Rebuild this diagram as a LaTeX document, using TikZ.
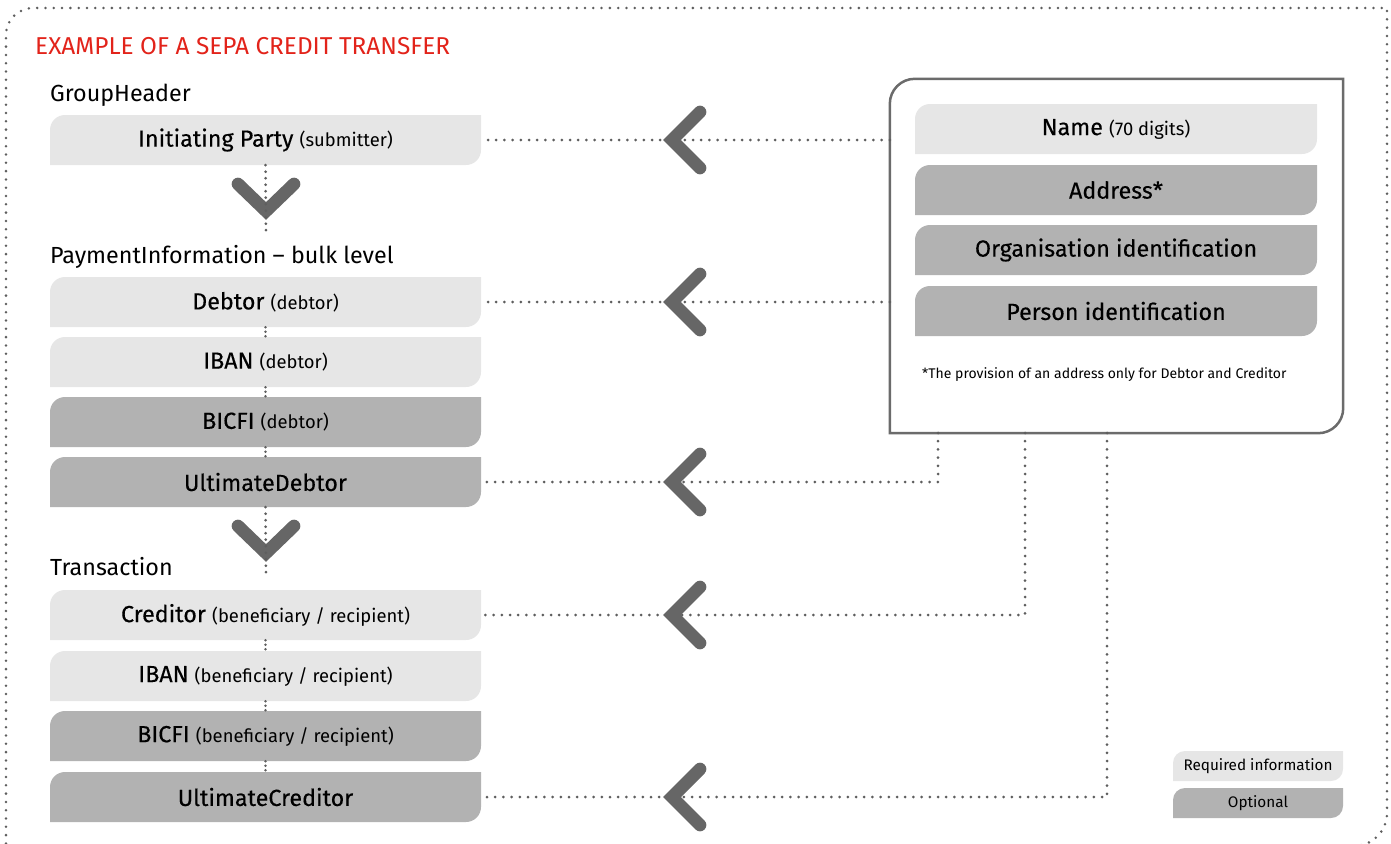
\documentclass[tikz,border=0pt]{standalone}
\usepackage{fontspec}
\setmainfont{Fira Sans}
\newfontfamily\medfont[FakeBold=0.25]{Fira Sans}
\definecolor{lightbox}{HTML}{E6E6E6}
\definecolor{darkbox}{HTML}{B2B2B2}
\definecolor{chevgray}{HTML}{666666}
\definecolor{dotgray}{HTML}{5E5E5E}
\definecolor{framegray}{HTML}{6B6B6B}
\definecolor{titlered}{HTML}{E2231A}
\newcommand\mainf{\medfont\fontsize{23.3}{27}\selectfont}
\newcommand\subf{\fontsize{18.4}{22}\selectfont}
\newcommand\headf{\fontsize{23.3}{27}\selectfont}
\newcommand\titlef{\fontsize{24.4}{28}\selectfont}
\newcommand\notef{\fontsize{14}{17}\selectfont}
\newcommand\legf{\fontsize{15.3}{18}\selectfont}
\tikzset{
  shapefill/.style 2 args={fill=white, path picture={
    \fill[#1] ([yshift=-#2]path picture bounding box.north west)
      arc[start angle=180,end angle=90,radius=#2]
      -- (path picture bounding box.north east)
      -- ([yshift=#2]path picture bounding box.south east)
      arc[start angle=0,end angle=-90,radius=#2]
      -- (path picture bounding box.south west) -- cycle;}},
  lbox/.style={minimum width=431pt, minimum height=50pt, inner sep=0pt, text=black},
  rbox/.style={minimum width=402pt, minimum height=50pt, inner sep=0pt, text=black},
  legbox/.style={minimum width=170pt, minimum height=30pt, inner sep=0pt, text=black},
  reqd/.style={shapefill={lightbox}{15pt}},
  opt/.style={shapefill={darkbox}{15pt}},
  reqdsmall/.style={shapefill={lightbox}{12pt}},
  optsmall/.style={shapefill={darkbox}{12pt}},
  heading/.style={anchor=base west, inner sep=0pt, font=\headf},
  dotline/.style={draw=dotgray, line width=3pt, line cap=round, dash pattern=on 0pt off 8.2pt},
  shortdots/.style={draw=dotgray, line width=2.8pt, line cap=round, dash pattern=on 0pt off 4.5pt},
  borderdots/.style={draw=dotgray, line width=2.8pt, line cap=round, dash pattern=on 0pt off 8.3pt},
  chevstroke/.style={draw=chevgray, line width=12.7pt, line join=miter, line cap=round},
  chevL/.pic={\draw[chevstroke] (28,28) -- (0,0) -- (28,-28);},
  chevD/.pic={\draw[chevstroke] (-28,27) -- (0,0) -- (28,27);},
}
\begin{document}
\begin{tikzpicture}[x=1pt,y=1pt]
\useasboundingbox (0,0) rectangle (1391,-843);

% outer dotted frame
\draw[borderdots] (6,-860) -- (6,-35) arc[start angle=180,end angle=90,radius=27]
  -- (1387,-8) -- (1387,-813) arc[start angle=0,end angle=-90,radius=33];

% title and headings
\node[anchor=base west, inner sep=0pt, text=titlered, font=\titlef] (title) at (35,-55) {EXAMPLE OF A SEPA CREDIT TRANSFER};
\node[heading] (gh) at (50,-101) {GroupHeader};
\node[heading] (pi) at (50,-263) {PaymentInformation -- bulk level};
\node[heading] (tr) at (50,-575) {Transaction};

% left column boxes
\node[lbox, reqd] (ip) at (265.5,-140) {{\mainf Initiating Party\ }{\subf (submitter)}};
\node[lbox, reqd] (deb) at (265.5,-302) {{\mainf Debtor\ }{\subf (debtor)}};
\node[lbox, reqd] (ibanD) at (265.5,-362) {{\mainf IBAN\ }{\subf (debtor)}};
\node[lbox, opt] (bicD) at (265.5,-422) {{\mainf BICFI\ }{\subf (debtor)}};
\node[lbox, opt] (ultD) at (265.5,-482) {{\mainf UltimateDebtor}};
\node[lbox, reqd] (cred) at (265.5,-615) {{\mainf Creditor\ }{\subf (beneficiary / recipient)}};
\node[lbox, reqd] (ibanC) at (265.5,-676) {{\mainf IBAN\ }{\subf (beneficiary / recipient)}};
\node[lbox, opt] (bicC) at (265.5,-736) {{\mainf BICFI\ }{\subf (beneficiary / recipient)}};
\node[lbox, opt] (ultC) at (265.5,-797) {{\mainf UltimateCreditor}};

% right attribute box
\node[minimum width=453pt, minimum height=354pt, inner sep=0pt] (attr) at (1116.5,-256) {};
\draw[draw=framegray, line width=2.5pt]
  ([yshift=-25pt]attr.north west) arc[start angle=180,end angle=90,radius=25]
  -- (attr.north east) -- ([yshift=25pt]attr.south east)
  arc[start angle=0,end angle=-90,radius=25] -- (attr.south west) -- cycle;
\node[rbox, reqd] (name) at (1116,-129) {{\mainf Name\ }{\subf (70 digits)}};
\node[rbox, opt] (addr) at (1116,-190) {{\mainf Address*}};
\node[rbox, opt] (org) at (1116,-250) {{\mainf Organisation identification}};
\node[rbox, opt] (pers) at (1116,-311) {{\mainf Person identification}};
\node[anchor=base west, inner sep=0pt, font=\notef] (note) at (922,-378) {*The provision of an address only for Debtor and Creditor};

% legend
\node[legbox, reqdsmall] (legreq) at (1258,-766) {\legf Required information};
\node[legbox, optsmall] (legopt) at (1258,-803) {\legf Optional};

% named points on the attribute box
\coordinate (a1) at (938,-433);
\coordinate (a2) at (1025,-433);
\coordinate (a3) at (1107,-433);
\coordinate (d1) at (266,-232);
\coordinate (d2) at (266,-577);

% horizontal connectors
\draw[dotline] (attr.west |- ip.east) -- (ip.east);
\draw[dotline] (attr.west |- deb.east) -- (deb.east);
\draw[dotline] (a1) |- (ultD.east);
\draw[dotline] (a2) |- (cred.east);
\draw[dotline] (a3) |- (ultC.east);

% short vertical connectors
\foreach \a/\b in {deb/ibanD, ibanD/bicD, bicD/ultD, cred/ibanC, ibanC/bicC, bicC/ultC}
  \draw[shortdots] (\a.south) -- (\b.north);

% chevrons
\foreach \yy in {-140,-302,-482,-615,-797}
  \pic at (672,\yy) {chevL};
\pic at (266,-211) {chevD};
\pic at (266,-553) {chevD};

% vertical connectors through the down chevrons
\draw[dotline, dash pattern=on 0pt off 6.5pt] (ip.south) -- (d1);
\draw[dotline, dash pattern=on 0pt off 6.5pt] (ultD.south) -- (d2);
\end{tikzpicture}
\end{document}
